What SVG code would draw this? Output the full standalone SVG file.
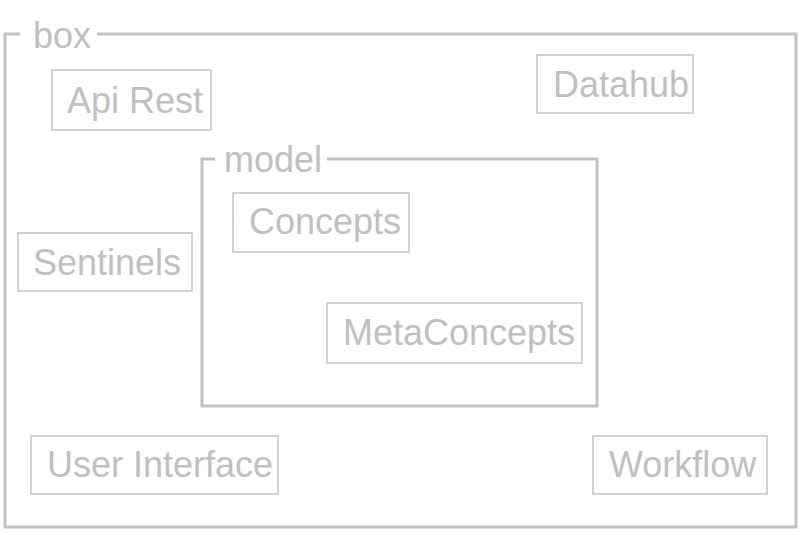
<svg xmlns="http://www.w3.org/2000/svg" width="800" height="535" viewBox="0 0 800 535">
<style>
.bg{fill:#ffffff}
.frame{fill:none;stroke:#c2c2c2;stroke-width:3}
.node{fill:#ffffff;stroke:#c8c8c8;stroke-width:1.6}
.t{font-family:"Liberation Sans",Arial,sans-serif;font-size:36px;fill:#c0c0c0}
</style>
<rect class="bg" x="0" y="0" width="800" height="535"/>
<g id="box">
<path class="frame" d="M97,34 H796 V527 H5 V34 H20"/>
<text class="t" x="33" y="48">box</text>
</g>
<g id="model">
<path class="frame" d="M327,159 H597 V406 H202 V159 H215"/>
<text class="t" x="224" y="172">model</text>
</g>
<g id="api-rest">
<rect class="node" x="52" y="70" width="159" height="60"/>
<text class="t" x="67" y="113">Api Rest</text>
</g>
<g id="datahub">
<rect class="node" x="537" y="55" width="156" height="58"/>
<text class="t" x="553" y="97">Datahub</text>
</g>
<g id="sentinels">
<rect class="node" x="18" y="233" width="174" height="58"/>
<text class="t" x="33" y="275">Sentinels</text>
</g>
<g id="concepts">
<rect class="node" x="233" y="193" width="176" height="59"/>
<text class="t" x="249" y="234">Concepts</text>
</g>
<g id="metaconcepts">
<rect class="node" x="327" y="303" width="255" height="60"/>
<text class="t" x="343" y="345">MetaConcepts</text>
</g>
<g id="user-interface">
<rect class="node" x="31" y="436" width="247" height="58"/>
<text class="t" x="47" y="477">User Interface</text>
</g>
<g id="workflow">
<rect class="node" x="593" y="436" width="174" height="58"/>
<text class="t" x="609" y="477">Workflow</text>
</g>
<g id="connectors"/>
</svg>
